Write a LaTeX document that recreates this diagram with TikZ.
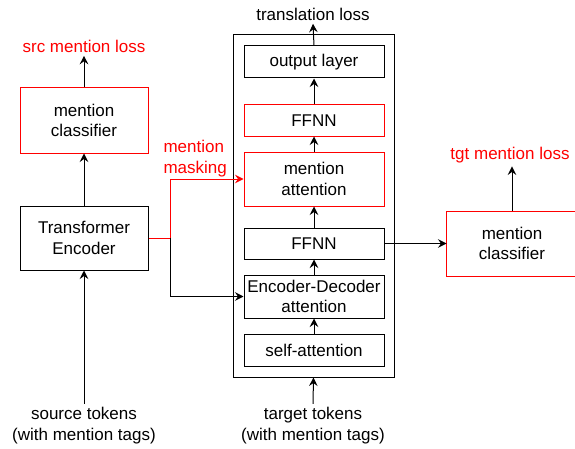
\documentclass[tikz,border=0pt]{standalone}
\usepackage{fontspec}
\setmainfont{Liberation Sans}
\usetikzlibrary{arrows.meta,positioning}
\definecolor{boxred}{RGB}{255,0,0}
\tikzset{
  %Define standard arrow tip
    >={Stealth[length=8.5pt,width=8.5pt,inset=3pt]},
  %define style for layer boxes in the decoder
  layer/.style={
    rectangle,
    draw=black, line width=1pt,
    minimum width=140pt,
    inner sep=1pt,
    align=center},
  redlayer/.style={
    layer,
    draw=boxred},
  %define style for boxes outside the decoder
  block/.style={
    rectangle,
    draw=black, line width=1pt,
    minimum width=128pt,
    minimum height=64pt,
    align=center},
  redblock/.style={
    block,
    draw=boxred},
  %define style for arrows
  myarrow/.style={
    ->,
    line width=1pt}
}

\begin{document}
\begin{tikzpicture}[x=1pt, y=1pt, every node/.style={font=\fontsize{17}{20.3}\selectfont}]
\useasboundingbox (0,0) rectangle (575,448);
%decoder frame
\node[rectangle, draw=black, line width=1pt, minimum width=161pt, minimum height=342pt] (decoder) at (313.5,242) {};

%decoder layers
\node[layer, minimum height=32pt] (selfatt) at (314,98) {self-attention};
\node[layer, minimum height=43pt, above=15pt of selfatt] (encdec) {Encoder-Decoder\\attention};
\node[layer, minimum height=31pt, above=15pt of encdec] (ffnn) {FFNN};
\node[redlayer, minimum height=54pt, above=21pt of ffnn] (mentatt) {mention\\attention};
\node[redlayer, minimum height=31pt, above=15pt of mentatt] (ffnnmention) {FFNN};
\node[layer, minimum height=32pt, above=26pt of ffnnmention] (outlayer) {output layer};

%target mention classifier
\node[block, draw=none, minimum width=130pt, right=62pt of ffnn] (tgtcls) {mention\\classifier};
\draw[red, line width=1pt] (tgtcls.south west) rectangle (tgtcls.north east);

%encoder side
\node[block] (encoder) at (84,210) {Transformer\\Encoder};
\node[redblock, minimum height=65pt, above=52pt of encoder] (srccls) {mention\\classifier};

%texts
\node[text=boxred] (srcloss) at (84,402) {src mention loss};
\node (transloss) at (313,434) {translation loss};
\node[text=boxred] (tgtloss) at (510,293) {tgt mention loss};
\node[align=center] (srctok) at (84,22.5) {source tokens\\(with mention tags)};
\node[align=center] (tgttok) at (313,22.5) {target tokens\\(with mention tags)};
\node[text=boxred, anchor=west, align=left] (masking) at (160,289.5) {mention\\masking};

\coordinate (junc) at (170,210);

%arrows
\draw[myarrow] (srctok.north) -- (encoder.south);
\draw[myarrow] (encoder.north) -- (srccls.south);
\draw[myarrow] (srccls.north) -- (srcloss.south);

\draw[myarrow] (tgttok.north) -- (decoder.south);
\draw[myarrow] (selfatt.north) -- (encdec.south);
\draw[myarrow] (encdec.north) -- (ffnn.south);
\draw[myarrow] (ffnn.north) -- (mentatt.south);
\draw[myarrow] (mentatt.north) -- (ffnnmention.south);
\draw[myarrow] (ffnnmention.north) -- (outlayer.south);
\draw[myarrow] (outlayer.north) -- (transloss.south);

\draw[myarrow, boxred] (encoder.east) -- (junc) |- (mentatt.west);
\draw[myarrow] (junc) |- (encdec.west);

\draw[myarrow] (ffnn.east) -- (tgtcls.west);
\draw[myarrow] (tgtcls.north) -- (tgtcls.north |- tgtloss.south);

\end{tikzpicture}
\end{document}
